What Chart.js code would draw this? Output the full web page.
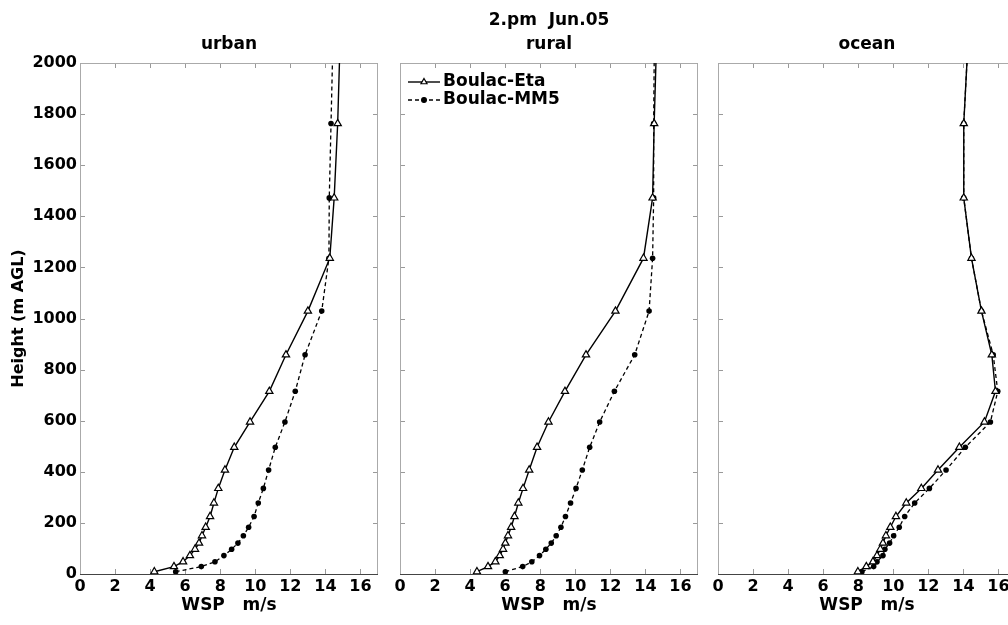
<!DOCTYPE html>
<html>
<head>
<meta charset="utf-8">
<script src="https://cdn.jsdelivr.net/npm/chart.js@4/dist/chart.umd.min.js"></script>
<style>
  html, body { margin: 0; padding: 0; background: #fff; overflow: hidden; width: 1008px; height: 625px; }
  canvas { position: absolute; top: 0; }
</style>
</head>
<body>
<canvas id="urbano" width="388" height="625" style="left:0px"></canvas>
<canvas id="rural" width="388" height="625" style="left:320px"></canvas>
<canvas id="oceano" width="388" height="625" style="left:638px"></canvas>
<script>
// niveles del modelo (m AGL)
const heights = [9, 29, 48, 72, 97, 121, 150, 183, 225, 278, 335, 407, 496, 595, 715, 858, 1029, 1236, 1472, 1763, 2000];
const xTicks = [0, 2, 4, 6, 8, 10, 12, 14, 16];
const yTicks = [0, 200, 400, 600, 800, 1000, 1200, 1400, 1600, 1800, 2000];

const urbanEta = [4.24, 5.36, 5.88, 6.27, 6.56, 6.79, 6.96, 7.17, 7.42, 7.64, 7.89, 8.27, 8.80, 9.70, 10.80, 11.75, 13.00, 14.25, 14.50, 14.70, 14.80];
const urbanMM5 = [5.46, 6.92, 7.70, 8.21, 8.65, 9.01, 9.32, 9.62, 9.93, 10.17, 10.46, 10.76, 11.14, 11.69, 12.28, 12.84, 13.79, 14.20, 14.22, 14.32, 14.40];

const ruralEta = [4.39, 5.02, 5.44, 5.69, 5.88, 6.01, 6.16, 6.34, 6.53, 6.75, 7.02, 7.37, 7.82, 8.47, 9.41, 10.61, 12.29, 13.89, 14.41, 14.50, 14.60];
const ruralMM5 = [6.01, 7.00, 7.52, 7.96, 8.32, 8.63, 8.91, 9.18, 9.44, 9.73, 10.04, 10.40, 10.82, 11.39, 12.23, 13.39, 14.21, 14.41, 14.47, 14.47, 14.50];

const oceanEta = [7.98, 8.46, 8.84, 9.07, 9.26, 9.41, 9.58, 9.83, 10.15, 10.74, 11.60, 12.55, 13.77, 15.20, 15.83, 15.62, 15.03, 14.46, 14.02, 14.02, 14.20];
const oceanMM5 = [8.21, 8.88, 9.07, 9.41, 9.52, 9.79, 10.02, 10.34, 10.65, 11.22, 12.06, 13.01, 14.11, 15.54, 15.96, 15.70, 15.03, 14.46, 14.02, 14.02, 14.20];

Chart.defaults.font.family = 'DejaVu Sans';
Chart.defaults.font.weight = 'bold';
Chart.defaults.font.size = 16;
Chart.defaults.color = '#000';

// marco con ticks hacia dentro en los cuatro lados
const marcoPlugin = {
  id: 'marco',
  beforeDatasetsDraw(chart) {
    const { ctx, chartArea: a, scales: { x, y } } = chart;
    ctx.save();
    ctx.lineWidth = 1;
    ctx.strokeStyle = '#999';
    ctx.beginPath();
    xTicks.forEach(v => {
      const px = Math.round(x.getPixelForValue(v)) + 0.5;
      ctx.moveTo(px, a.top); ctx.lineTo(px, a.top + 5);
      ctx.moveTo(px, a.bottom); ctx.lineTo(px, a.bottom - 5);
    });
    yTicks.forEach(v => {
      const py = Math.round(y.getPixelForValue(v)) + 0.5;
      ctx.moveTo(a.left, py); ctx.lineTo(a.left + 5, py);
      ctx.moveTo(a.right, py); ctx.lineTo(a.right - 5, py);
    });
    ctx.stroke();

    ctx.strokeStyle = '#aaa';
    ctx.beginPath();
    ctx.moveTo(a.left + 0.5, a.bottom);
    ctx.lineTo(a.left + 0.5, a.top + 0.5);
    ctx.lineTo(a.right - 0.5, a.top + 0.5);
    ctx.lineTo(a.right - 0.5, a.bottom);
    ctx.stroke();

    ctx.strokeStyle = '#444';
    ctx.beginPath();
    ctx.moveTo(a.left, a.bottom + 0.5);
    ctx.lineTo(a.right, a.bottom + 0.5);
    ctx.stroke();
    ctx.restore();
  }
};

// leyenda dentro del panel central
const leyendaPlugin = {
  id: 'leyenda',
  afterDraw(chart) {
    const { ctx, chartArea: a } = chart;
    const x0 = a.left + 8, x1 = a.left + 40;
    const rows = [82, 100];
    const sizes = [3.5, 2.4];
    ctx.save();
    chart.data.datasets.forEach((ds, i) => {
      const yy = rows[i];
      ctx.strokeStyle = '#000';
      ctx.lineWidth = ds.borderWidth;
      ctx.setLineDash(ds.borderDash || []);
      ctx.beginPath();
      ctx.moveTo(x0, yy); ctx.lineTo(x1, yy);
      ctx.stroke();
      ctx.setLineDash([]);
      ctx.fillStyle = ds.pointBackgroundColor;
      ctx.lineWidth = 1.2;
      Chart.helpers.drawPoint(ctx, {
        pointStyle: ds.pointStyle, radius: sizes[i], rotation: 0, borderWidth: 1.2
      }, (x0 + x1) / 2, yy);
      ctx.fillStyle = '#000';
      ctx.font = 'bold 17px "DejaVu Sans"';
      ctx.textBaseline = 'middle';
      ctx.textAlign = 'left';
      ctx.fillText(ds.label, x1 + 3, yy);
    });
    ctx.restore();
  }
};

function toPoints(vals) {
  return vals.map((v, i) => ({ x: v, y: heights[i] }));
}

function makeDatasets(eta, mm5) {
  const last = heights.length - 1;
  return [
    {
      label: 'Boulac-Eta',
      data: toPoints(eta),
      showLine: true,
      borderColor: '#000',
      borderWidth: 1.4,
      pointStyle: 'triangle',
      pointRadius: heights.map((h, i) => i === last ? 0 : 4.2),
      pointBackgroundColor: '#fff',
      pointBorderColor: '#000',
      pointBorderWidth: 1.2
    },
    {
      label: 'Boulac-MM5',
      data: toPoints(mm5),
      showLine: true,
      borderColor: '#000',
      borderWidth: 1.3,
      borderDash: [4, 3],
      pointStyle: 'circle',
      pointRadius: heights.map((h, i) => i === last ? 0 : 2.8),
      pointBackgroundColor: '#000',
      pointBorderColor: '#000',
      pointBorderWidth: 0
    }
  ];
}

function crearPanel(id, eta, mm5, titulos, conEjeY, conLeyenda) {
  const ctx = document.getElementById(id).getContext('2d');
  const plugins = [marcoPlugin];
  if (conLeyenda) plugins.push(leyendaPlugin);

  const pluginOpts = { legend: { display: false }, tooltip: { enabled: false } };
  if (titulos.length === 2) {
    pluginOpts.title = {
      display: true, text: titulos[0], fullSize: false,
      font: { size: 17, weight: 'bold' }, padding: { top: 10.8, bottom: 0 }
    };
    pluginOpts.subtitle = {
      display: true, text: titulos[1], fullSize: false, color: '#000',
      font: { size: 17, weight: 'bold' }, padding: { top: 3.6, bottom: 7.8 }
    };
  } else {
    pluginOpts.title = {
      display: true, text: titulos[0], fullSize: false,
      font: { size: 17, weight: 'bold' }, padding: { top: 34.8, bottom: 7.8 }
    };
  }

  return new Chart(ctx, {
    type: 'scatter',
    data: { datasets: makeDatasets(eta, mm5) },
    plugins: plugins,
    options: {
      responsive: false,
      animation: false,
      devicePixelRatio: 1,
      layout: { padding: { top: 0, right: 10, bottom: 0, left: 0 } },
      scales: {
        x: {
          type: 'linear', min: 0, max: 17,
          afterBuildTicks: s => { s.ticks = xTicks.map(v => ({ value: v })); },
          afterFit: s => { s.height = 51; },
          grid: { display: false, drawTicks: false },
          border: { display: false },
          ticks: { padding: 3, font: { size: 16, weight: 'bold' }, maxRotation: 0, callback: v => String(v) },
          title: { display: true, text: 'WSP   m/s', font: { size: 17, weight: 'bold' }, padding: { top: 0, bottom: 9 } }
        },
        y: {
          type: 'linear', min: 0, max: 2000,
          afterBuildTicks: s => { s.ticks = yTicks.map(v => ({ value: v })); },
          afterFit: s => { s.width = 80; },
          grid: { display: false, drawTicks: false },
          border: { display: false },
          ticks: { display: conEjeY, padding: 3, font: { size: 16, weight: 'bold' }, callback: v => String(v) },
          title: { display: conEjeY, text: 'Height (m AGL)', font: { size: 16, weight: 'bold' }, padding: { top: 9, bottom: 0 } }
        }
      },
      plugins: pluginOpts
    }
  });
}

crearPanel('urbano', urbanEta, urbanMM5, ['urban'], true, false);
crearPanel('rural', ruralEta, ruralMM5, ['2.pm  Jun.05', 'rural'], false, true);
crearPanel('oceano', oceanEta, oceanMM5, ['ocean'], false, false);
</script>
</body>
</html>
